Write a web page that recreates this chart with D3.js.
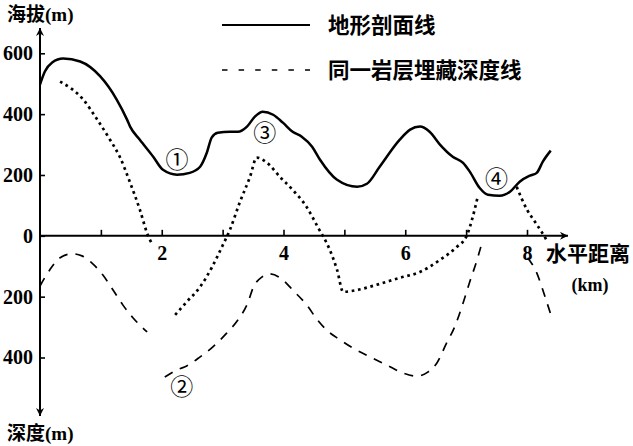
<!DOCTYPE html>
<html>
<head>
<meta charset="utf-8">
<script src="https://cdn.jsdelivr.net/npm/d3@7"></script>
<style>
body { margin: 0; background: #fff; }
</style>
</head>
<body>
<script>
'use strict';

// terrain profile line, [km, m]
const terrain = [
    [0, 497], [0.08, 540], [0.2, 570], [0.38, 583], [0.66, 573], [0.99, 524],
    [1.26, 448], [1.43, 382], [1.48, 359], [1.64, 316], [1.86, 260], [2.02, 217],
    [2.25, 201], [2.46, 207], [2.63, 227], [2.74, 273], [2.82, 323], [2.92, 339],
    [3.12, 342], [3.25, 342], [3.40, 359], [3.53, 392], [3.66, 408], [3.83, 398],
    [3.99, 372], [4.15, 342], [4.30, 326], [4.47, 293], [4.60, 250], [4.88, 184],
    [5.21, 161], [5.37, 171], [5.58, 227], [5.91, 316], [6.08, 349], [6.24, 359],
    [6.40, 342], [6.57, 300], [6.78, 260], [6.95, 240], [7.06, 211], [7.22, 158],
    [7.36, 135], [7.55, 132], [7.72, 145], [7.88, 178], [8.05, 198], [8.16, 207],
    [8.26, 244], [8.39, 280]
]

// dotted line pieces
const dottedA = [
    [0.33, 507], [0.71, 448], [0.94, 382], [1.15, 316], [1.31, 260], [1.48, 175],
    [1.64, 86], [1.77, 3], [1.84, -26]
]
const dottedB = [
    [2.22, -260], [2.41, -217], [2.63, -168], [2.82, -105], [2.99, -36], [3.12, 20],
    [3.28, 109], [3.45, 194], [3.56, 257], [3.73, 240], [3.94, 194], [4.15, 151],
    [4.38, 95], [4.56, 30], [4.76, -46], [4.88, -112], [4.98, -184], [5.21, -178],
    [5.53, -161], [5.91, -138], [6.24, -119], [6.57, -79], [6.85, -36], [7.01, 0],
    [7.11, 63], [7.19, 128]
]
const dottedC = [
    [7.83, 161], [8.0, 86], [8.13, 46], [8.24, 13], [8.34, -20]
]

// dashed line pieces (same rock layer depth)
const dashedA = [
    [0, -165], [0.16, -112], [0.33, -72], [0.53, -59], [0.69, -66], [0.85, -89],
    [1.03, -128], [1.2, -178], [1.36, -227], [1.53, -270], [1.76, -316]
]
const dashedB = [
    [2.05, -464], [2.25, -441], [2.41, -428], [2.63, -398], [2.84, -365], [3.07, -319],
    [3.25, -277], [3.42, -217], [3.5, -171], [3.65, -135], [3.78, -125], [3.99, -145],
    [4.15, -178], [4.38, -227], [4.56, -277], [4.71, -310], [4.93, -342], [5.14, -369],
    [5.42, -398], [5.70, -425], [5.96, -451], [6.19, -461], [6.37, -448], [6.52, -418],
    [6.68, -352], [6.81, -300], [6.95, -221], [7.06, -151], [7.18, -79], [7.26, -23]
]
const dashedC = [
    [8.01, -72], [8.16, -122], [8.26, -178], [8.34, -227], [8.41, -270]
]

const markers = [
    { label: "①", km: 2.25, m: 250 },
    { label: "②", km: 2.33, m: -497 },
    { label: "③", km: 3.69, m: 339 },
    { label: "④", km: 7.5, m: 188 }
]

const xTicks = [1, 2, 3, 4, 5, 6, 7, 8]
const xTickLabels = [2, 4, 6, 8]
const yTicks = [600, 400, 200, 0, -200, -400]

const legendNames = ["地形剖面线", "同一岩层埋藏深度线"]

const numFont = "'Liberation Serif', 'Times New Roman', serif"
const cjkFont = "'Noto Sans CJK SC', sans-serif"

const svg = d3.select("body").append("svg")
    .attr("width", 633)
    .attr("height", 446)

const x = d3.scaleLinear().domain([0, 8]).range([40, 527])
const y = d3.scaleLinear().domain([-400, 600]).range([357.5, 53.3])

// arrow heads
const defs = svg.append("defs")
defs.append("marker")
    .attr("id", "arrow")
    .attr("viewBox", "0 0 10 10")
    .attr("refX", 10).attr("refY", 5)
    .attr("markerWidth", 8).attr("markerHeight", 8)
    .attr("markerUnits", "userSpaceOnUse")
    .attr("orient", "auto")
    .append("path")
    .attr("d", "M0,0 L10,5 L0,10 L3,5 Z")
    .attr("fill", "black")

// axis lines
svg.append("line")
    .attr("x1", x(0)).attr("y1", 416)
    .attr("x2", x(0)).attr("y2", 28)
    .attr("stroke", "black").attr("stroke-width", 2)
    .attr("marker-end", "url(#arrow)")
svg.append("line")
    .attr("x1", x(0)).attr("y1", 28)
    .attr("x2", x(0)).attr("y2", 416)
    .attr("stroke", "black").attr("stroke-width", 2)
    .attr("marker-end", "url(#arrow)")
svg.append("line")
    .attr("x1", x(0)).attr("y1", y(0))
    .attr("x2", 568).attr("y2", y(0))
    .attr("stroke", "black").attr("stroke-width", 2)
    .attr("marker-end", "url(#arrow)")

// x axis ticks (pointing up)
const xAxis = svg.append("g")
    .attr("transform", "translate(0," + y(0) + ")")
    .call(d3.axisBottom(x)
        .tickValues(xTicks)
        .tickSize(-6)
        .tickPadding(10)
        .tickFormat(d => xTickLabels.includes(d) ? d : ""))
xAxis.select(".domain").remove()
xAxis.selectAll("line").attr("stroke-width", 1.6)
xAxis.selectAll("text")
    .attr("font-family", numFont)
    .attr("font-weight", "bold")
    .attr("font-size", 20)

// y axis ticks (pointing right)
const yAxis = svg.append("g")
    .attr("transform", "translate(" + x(0) + ",0)")
    .call(d3.axisLeft(y)
        .tickValues(yTicks)
        .tickSize(-5)
        .tickPadding(7)
        .tickFormat(d => Math.abs(d)))
yAxis.select(".domain").remove()
yAxis.selectAll("line").attr("stroke-width", 1.6)
yAxis.selectAll("text")
    .attr("font-family", numFont)
    .attr("font-weight", "bold")
    .attr("font-size", 20)

const line = d3.line()
    .x(d => x(d[0]))
    .y(d => y(d[1]))
    .curve(d3.curveMonotoneX)

svg.append("path")
    .attr("d", line(terrain))
    .attr("fill", "none")
    .attr("stroke", "black")
    .attr("stroke-width", 2.5)

svg.selectAll(".dotted")
    .data([dottedA, dottedB, dottedC])
    .enter()
    .append("path")
    .attr("class", "dotted")
    .attr("d", line)
    .attr("fill", "none")
    .attr("stroke", "black")
    .attr("stroke-width", 2.7)
    .attr("stroke-dasharray", "2.7,3.7")

svg.selectAll(".dashed")
    .data([dashedA, dashedB, dashedC])
    .enter()
    .append("path")
    .attr("class", "dashed")
    .attr("d", line)
    .attr("fill", "none")
    .attr("stroke", "black")
    .attr("stroke-width", 1.7)
    .attr("stroke-dasharray", "9,8")

// circled markers
svg.selectAll(".marker")
    .data(markers)
    .enter()
    .append("text")
    .attr("class", "marker")
    .attr("x", d => x(d.km))
    .attr("y", d => y(d.m))
    .attr("dy", "0.35em")
    .attr("text-anchor", "middle")
    .attr("font-family", cjkFont)
    .attr("font-size", 23)
    .text(d => d.label)

// axis titles
function axisTitle(tx, ty, cjk, unit) {
    const t = svg.append("text")
        .attr("x", tx).attr("y", ty)
        .attr("dy", "0.35em")
        .attr("font-size", 19)
    t.append("tspan").attr("font-family", cjkFont).attr("font-weight", "bold").text(cjk)
    t.append("tspan").attr("font-family", numFont).attr("font-weight", "bold").text(unit)
}
axisTitle(7, 14, "海拔", "(m)")
axisTitle(7, 433, "深度", "(m)")

svg.append("text")
    .attr("x", 546).attr("y", 254)
    .attr("dy", "0.35em")
    .attr("font-family", cjkFont)
    .attr("font-weight", "bold")
    .attr("font-size", 21)
    .text("水平距离")
svg.append("text")
    .attr("x", 590).attr("y", 285)
    .attr("dy", "0.35em")
    .attr("text-anchor", "middle")
    .attr("font-family", numFont)
    .attr("font-weight", "bold")
    .attr("font-size", 18)
    .text("(km)")

// legend
const legend = svg.append("g")
legend.append("line")
    .attr("x1", 222).attr("x2", 310)
    .attr("y1", 25).attr("y2", 25)
    .attr("stroke", "black").attr("stroke-width", 2)
legend.append("line")
    .attr("x1", 222).attr("x2", 310)
    .attr("y1", 70).attr("y2", 70)
    .attr("stroke", "black").attr("stroke-width", 1.6)
    .attr("stroke-dasharray", "5.5,11.1")
legend.selectAll("text")
    .data(legendNames)
    .enter()
    .append("text")
    .attr("x", 328)
    .attr("y", (d, i) => i === 0 ? 25 : 70)
    .attr("dy", "0.35em")
    .attr("font-family", cjkFont)
    .attr("font-weight", "bold")
    .attr("font-size", 21.5)
    .text(d => d)
</script>
</body>
</html>
